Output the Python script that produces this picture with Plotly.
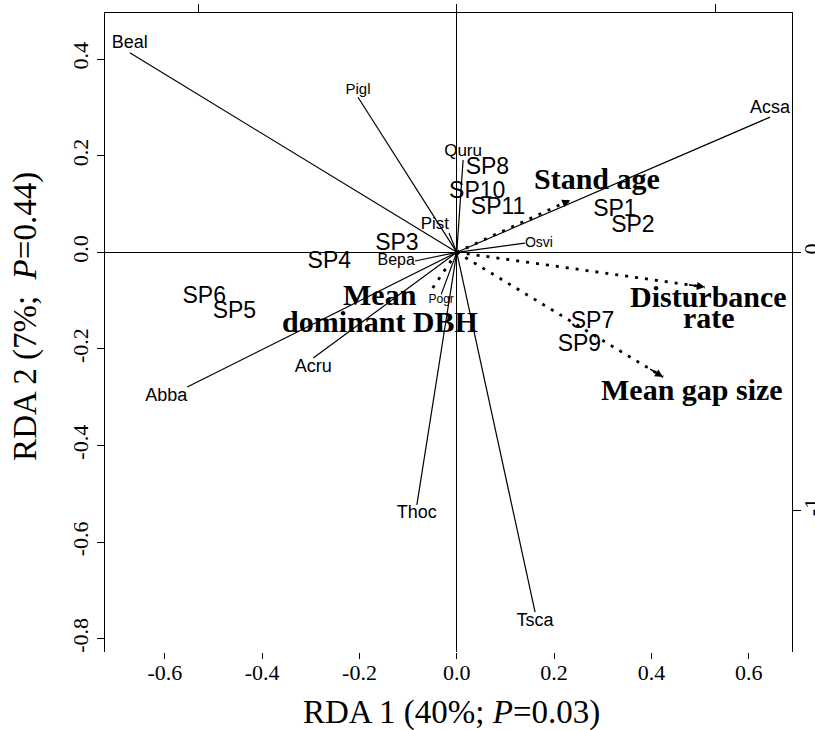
import plotly.graph_objects as go

# ---------------- data ----------------
species = ["Beal", "Pigl", "Acsa", "Quru", "Pist", "Osvi", "Bepa", "Pogr",
           "Acru", "Abba", "Thoc", "Tsca"]
species_x = [-0.672, -0.203, 0.644, 0.013, -0.016, 0.140, -0.086, -0.032,
             -0.295, -0.554, -0.082, 0.161]
species_y = [0.413, 0.321, 0.280, 0.191, 0.040, 0.019, -0.018, -0.087,
             -0.219, -0.279, -0.523, -0.745]

sites = ["SP1", "SP2", "SP3", "SP4", "SP5", "SP6", "SP7", "SP8", "SP9",
         "SP10", "SP11"]
sites_x = [0.325, 0.362, -0.123, -0.262, -0.457, -0.519, 0.279, 0.063,
           0.252, 0.042, 0.085]
sites_y = [0.087, 0.053, 0.017, -0.020, -0.125, -0.092, -0.144, 0.174,
           -0.192, 0.125, 0.092]

env_names = ["Stand age", "Disturbance\nrate", "Mean gap size",
             "Mean\ndominant DBH"]
env_x = [0.233, 0.510, 0.424, -0.055]
env_y = [0.108, -0.072, -0.258, -0.082]

x_ticks = [-0.6, -0.4, -0.2, 0.0, 0.2, 0.4, 0.6]
x_tick_labels = ["-0.6", "-0.4", "-0.2", "0.0", "0.2", "0.4", "0.6"]
y_ticks = [-0.8, -0.6, -0.4, -0.2, 0.0, 0.2, 0.4]
y_tick_labels = ["-0.8", "-0.6", "-0.4", "-0.2", "0.0", "0.2", "0.4"]
x2_ticks = [-1, 0, 1]
y2_ticks = [-1, 0]
y2_tick_labels = ["-1", "0"]

x_title = "RDA 1 (40%; <i>P</i>=0.03)"
y_title = "RDA 2 (7%;\u00a0 <i>P</i>=0.44)"

# ---------------- styles ----------------
SANS = "Liberation Sans, Arial, sans-serif"
SERIF = "Liberation Serif, Times New Roman, serif"

species_style = {  # (textposition, font size)
    "Beal": ("top center", 18), "Pigl": ("top center", 15),
    "Acsa": ("top center", 18), "Quru": ("top center", 17),
    "Pist": ("top left", 17), "Osvi": ("middle right", 14),
    "Bepa": ("middle left", 16), "Pogr": ("bottom center", 12),
    "Acru": ("bottom center", 18), "Abba": ("bottom left", 18),
    "Thoc": ("bottom center", 18), "Tsca": ("bottom center", 18),
}
env_shifts = {  # per line: (xshift, yshift) in px
    "Stand age": [(27, 22)],
    "Disturbance\nrate": [(4, -9), (4, -30)],
    "Mean gap size": [(29, -13)],
    "Mean\ndominant DBH": [(-50, -3), (-50, -30)],
}

fig = go.Figure()

# species lines from origin
lx, ly = [], []
for x, y in zip(species_x, species_y):
    lx += [0, x, None]
    ly += [0, y, None]
fig.add_trace(go.Scatter(x=lx, y=ly, mode="lines",
                         line=dict(color="black", width=1.2),
                         hoverinfo="skip"))

# species labels
for name, x, y in zip(species, species_x, species_y):
    pos, size = species_style[name]
    fig.add_trace(go.Scatter(x=[x], y=[y], mode="text", text=[name],
                             textposition=pos,
                             textfont=dict(family=SANS, size=size, color="black"),
                             hoverinfo="skip"))

# site labels
fig.add_trace(go.Scatter(x=sites_x, y=sites_y, mode="text", text=sites,
                         textposition="middle center",
                         textfont=dict(family=SANS, size=23, color="black"),
                         hoverinfo="skip"))

# environmental dotted arrows
ex, ey = [], []
for x, y in zip(env_x, env_y):
    ex += [0, x, None]
    ey += [0, y, None]
fig.add_trace(go.Scatter(x=ex, y=ey, mode="lines",
                         line=dict(color="black", width=2.8, dash="3px,7px"),
                         hoverinfo="skip"))

annotations = []
for name, x, y in zip(env_names, env_x, env_y):
    annotations.append(dict(x=x, y=y, ax=0.93 * x, ay=0.93 * y,
                            xref="x", yref="y", axref="x", ayref="y",
                            text="", showarrow=True, arrowhead=2,
                            arrowsize=1, arrowwidth=1.6, arrowcolor="black"))
    for line, (dx, dy) in zip(name.split("\n"), env_shifts[name]):
        annotations.append(dict(x=x, y=y, xref="x", yref="y", text=f"<b>{line}</b>",
                                showarrow=False, xshift=dx, yshift=dy,
                                xanchor="center", yanchor="middle",
                                font=dict(family=SERIF, size=30, color="black")))

# axis titles
annotations.append(dict(x=0.504, y=-0.094, xref="paper", yref="paper",
                        text=x_title, showarrow=False, xanchor="center",
                        yanchor="middle",
                        font=dict(family=SERIF, size=33, color="black")))
annotations.append(dict(x=-0.115, y=0.526, xref="paper", yref="paper",
                        text=y_title, showarrow=False, textangle=-90,
                        xanchor="center", yanchor="middle",
                        font=dict(family=SERIF, size=33, color="black")))

# invisible trace to activate secondary axes
fig.add_trace(go.Scatter(x=[0], y=[0], xaxis="x2", yaxis="y2", mode="markers",
                         marker=dict(opacity=0), hoverinfo="skip"))

tickfont = dict(family=SERIF, size=22, color="black")
fig.update_layout(
    width=815, height=730,
    margin=dict(l=105, r=23, t=13, b=78, autoexpand=False),
    paper_bgcolor="white", plot_bgcolor="white",
    showlegend=False,
    annotations=annotations,
    xaxis=dict(range=[-0.723, 0.689], tickvals=x_ticks, ticktext=x_tick_labels,
               ticks="outside", ticklen=6, tickcolor="black", tickwidth=1,
               ticklabelstandoff=-5,
               showline=False, showgrid=False, automargin=False,
               zeroline=True, zerolinecolor="black", zerolinewidth=1,
               tickfont=tickfont),
    yaxis=dict(range=[-0.8275, 0.4955], tickvals=y_ticks, ticktext=y_tick_labels,
               ticks="outside", ticklen=7, tickcolor="black", tickwidth=1,
               showline=True, linecolor="black", linewidth=1, automargin=False,
               showgrid=False, tickangle=-90,
               zeroline=True, zerolinecolor="black", zerolinewidth=1,
               tickfont=tickfont),
    xaxis2=dict(overlaying="x", side="top", anchor="y2", automargin=False,
                range=[-1.3605, 1.2971], tickvals=x2_ticks,
                ticks="outside", ticklen=8, tickcolor="black",
                showticklabels=False, showline=True, linecolor="black",
                linewidth=1, showgrid=False, zeroline=False),
    yaxis2=dict(overlaying="y", side="right", anchor="x2", automargin=False,
                range=[-1.549, 0.9275], tickvals=y2_ticks,
                ticktext=y2_tick_labels, tickangle=-90,
                ticks="outside", ticklen=8, tickcolor="black",
                ticklabelstandoff=-8,
                showline=True, linecolor="black", linewidth=1,
                showgrid=False, zeroline=False, tickfont=tickfont),
)

fig.write_html("out.html",
               config={"displayModeBar": False},
               post_script="document.body.style.margin='0';"
                           "document.body.style.padding='0';")
